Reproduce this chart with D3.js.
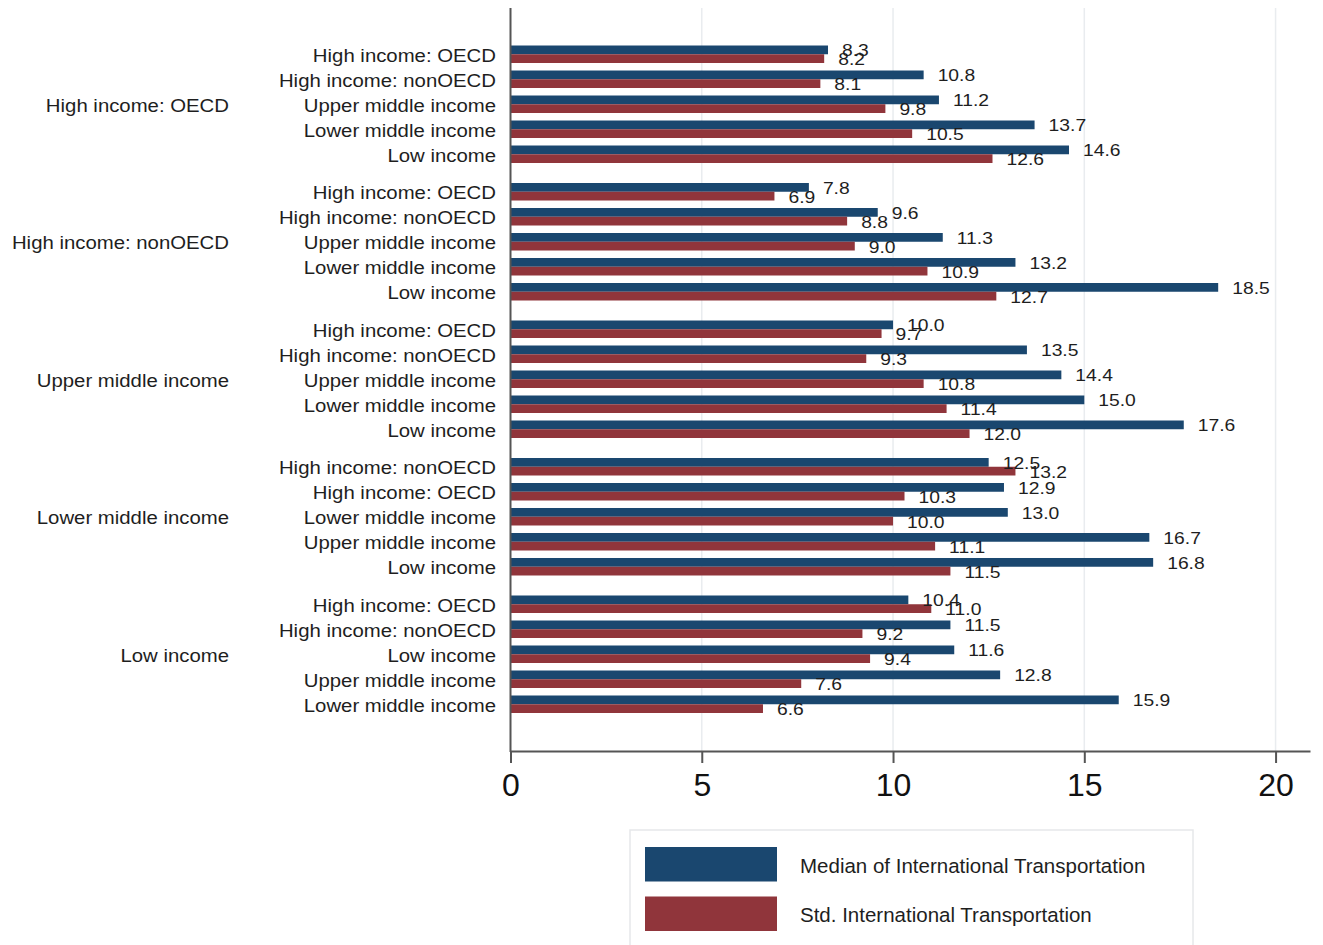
<!DOCTYPE html>
<html>
<head>
<meta charset="utf-8">
<script src="https://cdn.jsdelivr.net/npm/d3@7"></script>
<style>
  html, body { margin: 0; padding: 0; background: #ffffff; }
  svg { display: block; font-family: "Liberation Sans", Arial, Helvetica, sans-serif; }
</style>
</head>
<body>
<svg id="chart" width="1323" height="945"></svg>
<script>
// Outer grouping (income group of the reporting economy)
const groups = [
  "High income: OECD",
  "High income: nonOECD",
  "Upper middle income",
  "Lower middle income",
  "Low income"
];

// Inner categories for each group, in drawing order (top to bottom)
const innerLabels = [
  ["High income: OECD", "High income: nonOECD", "Upper middle income", "Lower middle income", "Low income"],
  ["High income: OECD", "High income: nonOECD", "Upper middle income", "Lower middle income", "Low income"],
  ["High income: OECD", "High income: nonOECD", "Upper middle income", "Lower middle income", "Low income"],
  ["High income: nonOECD", "High income: OECD", "Lower middle income", "Upper middle income", "Low income"],
  ["High income: OECD", "High income: nonOECD", "Low income", "Upper middle income", "Lower middle income"]
];

// Median of International Transportation
const medianValues = [
  [8.3, 10.8, 11.2, 13.7, 14.6],
  [7.8, 9.6, 11.3, 13.2, 18.5],
  [10.0, 13.5, 14.4, 15.0, 17.6],
  [12.5, 12.9, 13.0, 16.7, 16.8],
  [10.4, 11.5, 11.6, 12.8, 15.9]
];

// Std. International Transportation
const stdValues = [
  [8.2, 8.1, 9.8, 10.5, 12.6],
  [6.9, 8.8, 9.0, 10.9, 12.7],
  [9.7, 9.3, 10.8, 11.4, 12.0],
  [13.2, 10.3, 10.0, 11.1, 11.5],
  [11.0, 9.2, 9.4, 7.6, 6.6]
];

const seriesNames = ["Median of International Transportation", "Std. International Transportation"];
const seriesKeys = ["median", "std"];
const xTicks = [0, 5, 10, 15, 20];

const colors = { median: "#1a476f", std: "#90353b" };

const svg = d3.select("#chart");

// Plot region
const plotTop = 8, plotBottom = 751;
const x = d3.scaleLinear().domain([0, 20.9]).range([510.5, 1310]);

const yGroup = d3.scaleBand()
  .domain(d3.range(groups.length))
  .range([plotTop, plotBottom - 0.5])
  .paddingInner(1 / 11)
  .paddingOuter(0.2455);

const yRow = d3.scaleBand()
  .domain(d3.range(5))
  .range([0, yGroup.bandwidth()])
  .paddingInner(0.3)
  .paddingOuter(0.15);

const ySeries = d3.scaleBand()
  .domain(seriesKeys)
  .range([0, yRow.bandwidth()]);

// Rows as flat records
const rows = [];
groups.forEach((g, gi) => {
  innerLabels[gi].forEach((lab, ri) => {
    rows.push({ gi, ri, label: lab, median: medianValues[gi][ri], std: stdValues[gi][ri] });
  });
});
const rowTop = d => yGroup(d.gi) + yRow(d.ri);

// Vertical gridlines
svg.append("g")
  .selectAll("line")
  .data(xTicks.filter(t => t > 0))
  .join("line")
  .attr("x1", d => x(d)).attr("x2", d => x(d))
  .attr("y1", plotTop).attr("y2", plotBottom)
  .attr("stroke", "#e9ecef")
  .attr("stroke-width", 1.5);

// Bars
const bars = [];
rows.forEach(r => seriesKeys.forEach(k => bars.push({ ...r, key: k, value: r[k] })));

svg.append("g")
  .selectAll("rect")
  .data(bars)
  .join("rect")
  .attr("x", x(0))
  .attr("y", d => rowTop(d) + ySeries(d.key))
  .attr("width", d => x(d.value) - x(0))
  .attr("height", ySeries.bandwidth())
  .attr("fill", d => colors[d.key]);

// Value labels at bar ends
svg.append("g")
  .selectAll("text")
  .data(bars)
  .join("text")
  .attr("transform", d => `translate(${x(d.value) + 14},${rowTop(d) + ySeries(d.key) + ySeries.bandwidth() / 2 + 1}) scale(1.17,1)`)
  .attr("dominant-baseline", "central")
  .attr("font-size", 16.5)
  .attr("fill", "#1e1e1e")
  .text(d => d3.format(".1f")(d.value));

// Inner category labels
svg.append("g")
  .selectAll("text")
  .data(rows)
  .join("text")
  .attr("transform", d => `translate(496,${rowTop(d) + yRow.bandwidth() / 2 + 1}) scale(1.1,1)`)
  .attr("text-anchor", "end")
  .attr("dominant-baseline", "central")
  .attr("font-size", 18.5)
  .attr("fill", "#1e1e1e")
  .text(d => d.label);

// Outer group labels
svg.append("g")
  .selectAll("text")
  .data(groups)
  .join("text")
  .attr("transform", (d, i) => `translate(229,${yGroup(i) + yGroup.bandwidth() / 2 + 1}) scale(1.1,1)`)
  .attr("text-anchor", "end")
  .attr("dominant-baseline", "central")
  .attr("font-size", 18.5)
  .attr("fill", "#1e1e1e")
  .text(d => d);

// Value axis
const xAxis = d3.axisBottom(x)
  .tickValues(xTicks)
  .tickFormat(d3.format("d"))
  .tickSize(12)
  .tickSizeOuter(0)
  .tickPadding(10);

const gx = svg.append("g")
  .attr("transform", `translate(0,${plotBottom})`)
  .call(xAxis);
gx.select(".domain").attr("stroke", "#555").attr("stroke-width", 2);
gx.selectAll(".tick line").attr("stroke", "#555").attr("stroke-width", 2);
gx.selectAll(".tick text")
  .attr("font-size", 32)
  .attr("font-family", "Liberation Sans, Arial, sans-serif")
  .attr("fill", "#111");

// Category axis line
svg.append("line")
  .attr("x1", x(0)).attr("x2", x(0))
  .attr("y1", plotTop).attr("y2", plotBottom + 1)
  .attr("stroke", "#555")
  .attr("stroke-width", 2);

// Legend
const legend = svg.append("g");
legend.append("rect")
  .attr("x", 630).attr("y", 830)
  .attr("width", 563).attr("height", 140)
  .attr("fill", "#ffffff")
  .attr("stroke", "#e6e8ea")
  .attr("stroke-width", 1.5);

const legendRows = legend.selectAll("g")
  .data(seriesKeys)
  .join("g")
  .attr("transform", (d, i) => `translate(0,${i * 49.5})`);

legendRows.append("rect")
  .attr("x", 645).attr("y", 847)
  .attr("width", 132).attr("height", 34.5)
  .attr("fill", d => colors[d]);

legendRows.append("text")
  .attr("x", 800).attr("y", 865)
  .attr("dominant-baseline", "central")
  .attr("font-size", 20.5)
  .attr("fill", "#1e1e1e")
  .text((d, i) => seriesNames[i]);
</script>
</body>
</html>
